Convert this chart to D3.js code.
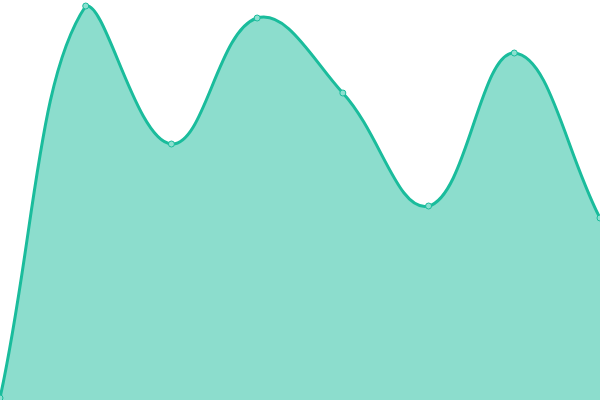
<!DOCTYPE html>
<html>
<head>
<meta charset="utf-8">
<script src="https://cdn.jsdelivr.net/npm/d3@7"></script>
<style>
  html, body { margin: 0; padding: 0; background: #fff; }
  svg { display: block; }
</style>
</head>
<body>
<div id="chart"></div>
<script>
// data
const categories = ["A", "B", "C", "D", "E", "F", "G", "H"];
const values = [2, 394, 256, 382, 307, 194, 347, 182];

const width = 600, height = 400;
const tension = 0.4;

// spline with tension, control points weighted by segment length and
// kept inside the plot area
function tensionCurve(context) {
    return {
        areaStart() { this._line = 0; },
        areaEnd() { this._line = NaN; },
        lineStart() { this._pts = []; },
        point(x, y) { this._pts.push([+x, +y]); },
        lineEnd() {
            const p = this._pts, n = p.length;
            if (n) {
                if (this._line) context.lineTo(p[0][0], p[0][1]);
                else context.moveTo(p[0][0], p[0][1]);
                const cps = p.map((cur, i) => {
                    const prev = p[Math.max(0, i - 1)];
                    const next = p[Math.min(n - 1, i + 1)];
                    const d01 = Math.hypot(cur[0] - prev[0], cur[1] - prev[1]);
                    const d12 = Math.hypot(next[0] - cur[0], next[1] - cur[1]);
                    let s01 = d01 / (d01 + d12), s12 = d12 / (d01 + d12);
                    if (isNaN(s01)) s01 = 0;
                    if (isNaN(s12)) s12 = 0;
                    const fa = tension * s01, fb = tension * s12;
                    const cap = q => [Math.max(0, Math.min(width, q[0])), Math.max(0, Math.min(height, q[1]))];
                    return {
                        prev: cap([cur[0] - fa * (next[0] - prev[0]), cur[1] - fa * (next[1] - prev[1])]),
                        next: cap([cur[0] + fb * (next[0] - prev[0]), cur[1] + fb * (next[1] - prev[1])])
                    };
                });
                for (let i = 1; i < n; i++) {
                    const a = cps[i - 1].next, b = cps[i].prev;
                    context.bezierCurveTo(a[0], a[1], b[0], b[1], p[i][0], p[i][1]);
                }
            }
            if (this._line || (this._line !== 0 && n === 1)) context.closePath();
            this._line = 1 - this._line;
        }
    };
}

const svg = d3.select("#chart").append("svg")
    .attr("width", width)
    .attr("height", height);

const x = d3.scalePoint()
    .domain(categories)
    .range([0, width]);

const y = d3.scaleLinear()
    .domain([0, 400])
    .range([height, 0]);

const data = categories.map((c, i) => ({ cat: c, val: values[i] }));

const area = d3.area()
    .x(d => x(d.cat))
    .y0(y(0))
    .y1(d => y(d.val))
    .curve(tensionCurve);

const line = d3.line()
    .x(d => x(d.cat))
    .y(d => y(d.val))
    .curve(tensionCurve);

svg.append("path")
    .datum(data)
    .attr("d", area)
    .attr("fill", "#1abc9c")
    .attr("fill-opacity", 0.5);

svg.append("path")
    .datum(data)
    .attr("d", line)
    .attr("fill", "none")
    .attr("stroke", "#1abc9c")
    .attr("stroke-width", 3);

// small markers on each point
svg.selectAll("circle")
    .data(data)
    .join("circle")
    .attr("cx", d => x(d.cat))
    .attr("cy", d => y(d.val))
    .attr("r", 3)
    .attr("fill", "#8ce0d0")
    .attr("stroke", "#1abc9c")
    .attr("stroke-width", 1);
</script>
</body>
</html>
